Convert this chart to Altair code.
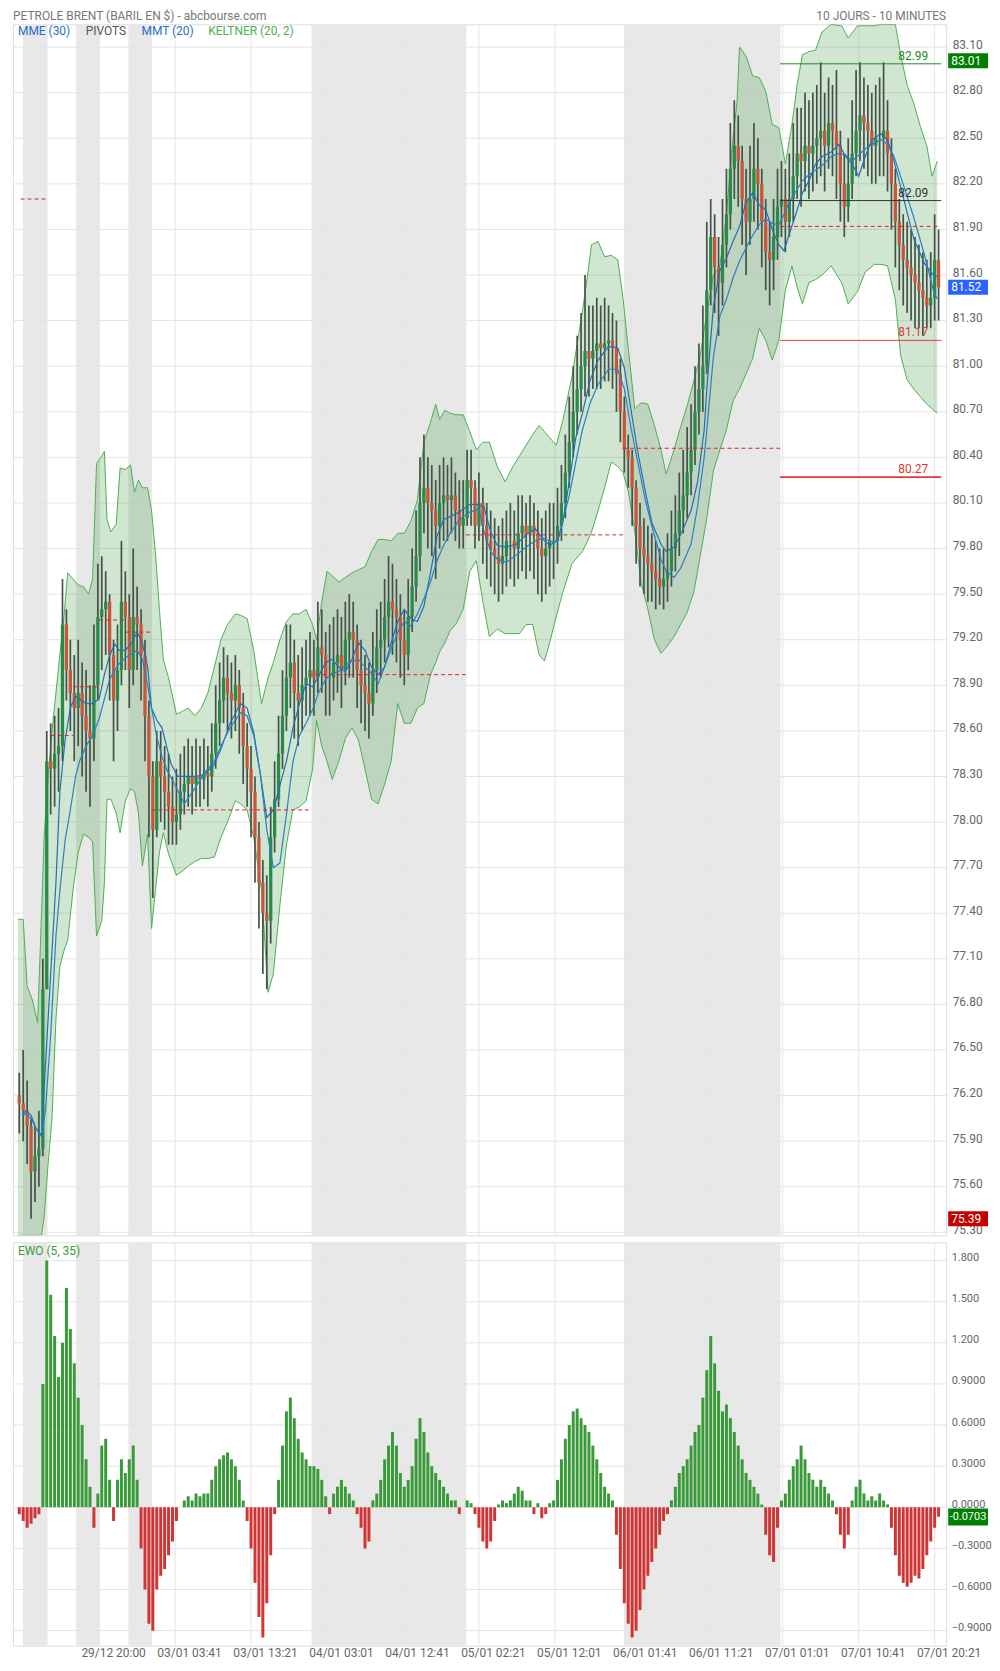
import altair as alt
import pandas as pd

FONT = "Roboto"
W, H1, H2 = 937, 1216, 405
XMAX = 705
PMIN, PMAX = 75.28, 83.25
EMIN, EMAX = -1.010, 1.933

# ---------------- data ----------------
candle_idx = list(range(1, 705, 3))  # 10-min bar index of each drawn candle
first_open = 76.20
closes = [
    76.15, 76.10, 76.00, 75.70, 75.80, 75.85, 76.90, 78.40, 78.35, 78.45,
    78.50, 79.30, 79.00, 78.85, 78.75, 78.85, 78.70, 78.60, 78.55, 78.90,
    79.35, 79.40, 79.45, 79.10, 78.80, 79.00, 79.45, 79.35, 79.00, 79.35,
    79.30, 79.10, 78.70, 78.30, 77.95, 78.40, 78.30, 78.20, 78.10, 78.00,
    78.05, 78.20, 78.25, 78.30, 78.25, 78.30, 78.28, 78.32, 78.30, 78.45,
    78.65, 78.80, 78.95, 78.85, 78.80, 78.90, 78.75, 78.50, 78.35, 78.20,
    77.90, 77.60, 77.40, 77.35, 77.90, 78.15, 78.45, 78.70, 78.95, 79.05,
    78.85, 78.80, 78.90, 78.95, 79.00, 78.95, 79.15, 79.10, 78.95, 78.95,
    79.05, 79.10, 79.00, 79.20, 79.25, 79.20, 79.00, 78.90, 78.85, 78.78,
    79.00, 79.15, 79.20, 79.35, 79.45, 79.40, 79.35, 79.20, 79.10, 79.35,
    79.55, 79.75, 80.10, 80.20, 80.10, 80.05, 79.95, 80.10, 80.15, 80.12,
    80.15, 80.05, 79.95, 80.00, 80.25, 80.20, 79.95, 80.10, 79.95, 79.85,
    79.80, 79.75, 79.70, 79.75, 79.85, 79.85, 79.80, 79.90, 79.95, 79.90,
    79.95, 79.90, 79.80, 79.75, 79.80, 79.85, 79.85, 79.95, 80.10, 80.30,
    80.50, 80.70, 80.85, 81.00, 81.10, 81.05, 81.10, 81.15, 81.12, 81.15,
    81.17, 81.12, 80.95, 80.70, 80.45, 80.40, 80.20, 79.95, 79.80, 79.75,
    79.70, 79.65, 79.60, 79.55, 79.60, 79.65, 79.80, 79.90, 80.05, 80.15,
    80.30, 80.45, 80.70, 80.85, 81.00, 81.50, 81.85, 81.65, 81.55, 81.80,
    82.00, 82.30, 82.45, 82.35, 82.10, 81.95, 82.10, 82.30, 82.20, 81.95,
    81.75, 81.70, 81.85, 82.05, 82.10, 81.95, 82.10, 82.25, 82.40, 82.35,
    82.45, 82.40, 82.45, 82.50, 82.55, 82.45, 82.60, 82.55, 82.45, 82.20,
    82.05, 82.20, 82.40, 82.55, 82.65, 82.60, 82.55, 82.45, 82.50, 82.50,
    82.55, 82.40, 82.20, 81.95, 81.80, 81.70, 81.65, 81.60, 81.55, 81.50,
    81.45, 81.40, 81.45, 81.70, 81.52,
]
highs = [
    76.35, 76.50, 76.30, 76.05, 76.00, 76.10, 77.10, 78.60, 78.65, 78.70,
    78.75, 79.60, 79.40, 79.20, 79.10, 79.20, 79.05, 79.00, 78.90, 79.30,
    79.70, 79.75, 79.65, 79.50, 79.20, 79.30, 79.85, 79.65, 79.50, 79.80,
    79.55, 79.40, 79.20, 78.80, 78.40, 78.60, 78.60, 78.50, 78.45, 78.30,
    78.35, 78.45, 78.50, 78.55, 78.50, 78.55, 78.50, 78.55, 78.50, 78.65,
    78.90, 79.05, 79.15, 79.10, 79.05, 79.10, 79.00, 78.85, 78.65, 78.50,
    78.30, 78.00, 77.75, 77.65, 78.10, 78.40, 78.70, 79.00, 79.30, 79.30,
    79.20, 79.10, 79.15, 79.20, 79.25, 79.20, 79.45, 79.40, 79.25, 79.30,
    79.35, 79.40, 79.35, 79.45, 79.50, 79.45, 79.30, 79.20, 79.10, 79.05,
    79.25, 79.40, 79.45, 79.60, 79.75, 79.70, 79.60, 79.50, 79.40, 79.60,
    79.80, 80.05, 80.40, 80.55, 80.40, 80.35, 80.25, 80.35, 80.40, 80.35,
    80.40, 80.30, 80.25, 80.25, 80.45, 80.45, 80.25, 80.30, 80.20, 80.10,
    80.05, 80.00, 79.95, 80.00, 80.05, 80.10, 80.05, 80.15, 80.15, 80.10,
    80.15, 80.10, 80.05, 80.00, 80.05, 80.10, 80.10, 80.20, 80.35, 80.55,
    80.80, 81.00, 81.20, 81.35, 81.60, 81.40, 81.40, 81.45, 81.40, 81.45,
    81.40, 81.35, 81.30, 81.05, 80.80, 80.55, 80.45, 80.25, 80.10, 80.00,
    79.95, 79.90, 79.85, 79.80, 79.80, 79.90, 80.05, 80.15, 80.30, 80.45,
    80.60, 80.75, 81.00, 81.15, 81.40, 81.95, 82.10, 82.00, 81.85, 82.10,
    82.30, 82.60, 82.75, 82.65, 82.45, 82.30, 82.45, 82.60, 82.50, 82.30,
    82.10, 81.95, 82.10, 82.30, 82.35, 82.30, 82.40, 82.60, 82.70, 82.70,
    82.80, 82.75, 82.80, 82.85, 83.00, 82.80, 82.90, 82.85, 82.95, 82.55,
    82.40, 82.50, 82.75, 82.95, 83.00, 82.90, 82.85, 82.80, 82.85, 82.90,
    83.00, 82.75, 82.50, 82.30, 82.10, 82.00, 81.95, 81.90, 81.85, 81.80,
    81.75, 81.70, 81.75, 82.00, 81.90,
]
lows = [
    75.95, 75.90, 75.75, 75.39, 75.50, 75.60, 75.80, 76.90, 78.05, 78.10,
    78.20, 78.40, 78.80, 78.60, 78.40, 78.50, 78.30, 78.20, 78.10, 78.40,
    78.80, 79.00, 79.10, 78.80, 78.40, 78.60, 78.90, 79.00, 78.75, 78.90,
    79.00, 78.80, 78.40, 77.90, 77.50, 77.90, 78.00, 77.95, 77.85, 77.85,
    77.85, 77.95, 78.05, 78.10, 78.05, 78.10, 78.10, 78.15, 78.10, 78.20,
    78.35, 78.50, 78.65, 78.60, 78.55, 78.60, 78.45, 78.25, 78.10, 77.90,
    77.60, 77.30, 77.00, 76.90, 77.20, 77.80, 78.10, 78.35, 78.60, 78.75,
    78.55, 78.50, 78.60, 78.70, 78.70, 78.70, 78.85, 78.85, 78.70, 78.70,
    78.80, 78.85, 78.75, 78.90, 78.95, 78.95, 78.75, 78.65, 78.60, 78.55,
    78.70, 78.85, 78.95, 79.05, 79.15, 79.10, 79.05, 78.95, 78.90, 79.00,
    79.25, 79.45, 79.65, 79.90, 79.80, 79.75, 79.60, 79.80, 79.85, 79.85,
    79.90, 79.85, 79.80, 79.80, 79.95, 79.95, 79.80, 79.85, 79.70, 79.60,
    79.55, 79.50, 79.45, 79.50, 79.55, 79.60, 79.55, 79.60, 79.65, 79.60,
    79.65, 79.60, 79.50, 79.45, 79.50, 79.55, 79.60, 79.70, 79.85, 80.00,
    80.20, 80.40, 80.55, 80.70, 80.80, 80.80, 80.85, 80.85, 80.85, 80.90,
    80.90, 80.85, 80.70, 80.50, 80.30, 80.20, 79.95, 79.70, 79.55, 79.50,
    79.45, 79.45, 79.40, 79.43, 79.40, 79.45, 79.55, 79.65, 79.75, 79.90,
    80.00, 80.15, 80.35, 80.55, 80.70, 80.95, 81.40, 81.35, 81.20, 81.40,
    81.65, 81.90, 82.10, 82.05, 81.80, 81.60, 81.80, 81.95, 81.90, 81.65,
    81.50, 81.40, 81.50, 81.70, 81.85, 81.75, 81.85, 81.95, 82.10, 82.05,
    82.15, 82.10, 82.15, 82.20, 82.25, 82.15, 82.30, 82.25, 82.10, 81.95,
    81.85, 81.95, 82.10, 82.25, 82.35, 82.30, 82.25, 82.20, 82.20, 82.25,
    82.25, 82.15, 81.90, 81.65, 81.50, 81.40, 81.35, 81.30, 81.25, 81.25,
    81.20, 81.25, 81.25, 81.30, 81.30,
]
ewo = [
    -0.05, -0.10, -0.15, -0.12, -0.08, -0.05, 0.90, 1.80, 1.55, 1.25,
    0.95, 1.20, 1.60, 1.30, 1.05, 0.80, 0.60, 0.35, 0.15, -0.15,
    0.10, 0.45, 0.50, 0.20, -0.10, 0.20, 0.35, 0.25, 0.35, 0.45,
    0.20, -0.30, -0.60, -0.85, -0.90, -0.60, -0.50, -0.45, -0.35, -0.25,
    -0.10, 0.00, 0.05, 0.08, 0.05, 0.10, 0.08, 0.10, 0.10, 0.20,
    0.30, 0.35, 0.38, 0.40, 0.35, 0.30, 0.20, 0.05, -0.10, -0.30,
    -0.55, -0.80, -0.95, -0.70, -0.35, -0.05, 0.20, 0.45, 0.70, 0.80,
    0.65, 0.50, 0.40, 0.35, 0.30, 0.30, 0.28, 0.20, 0.08, -0.05,
    0.10, 0.15, 0.20, 0.15, 0.10, 0.05, -0.05, -0.15, -0.30, -0.25,
    0.05, 0.10, 0.20, 0.35, 0.45, 0.55, 0.45, 0.25, 0.15, 0.20,
    0.30, 0.50, 0.65, 0.55, 0.40, 0.30, 0.25, 0.20, 0.15, 0.10,
    0.05, 0.05, -0.05, 0.00, 0.05, 0.03, -0.05, -0.15, -0.25, -0.30,
    -0.25, -0.10, 0.02, 0.05, 0.03, 0.05, 0.10, 0.15, 0.12, 0.05,
    0.05, -0.05, 0.03, -0.08, -0.05, 0.03, 0.05, 0.20, 0.35, 0.50,
    0.60, 0.70, 0.72, 0.65, 0.60, 0.55, 0.45, 0.35, 0.25, 0.15,
    0.10, 0.05, -0.20, -0.45, -0.70, -0.85, -0.95, -0.90, -0.75, -0.60,
    -0.50, -0.40, -0.30, -0.20, -0.10, -0.05, 0.05, 0.15, 0.25, 0.30,
    0.35, 0.45, 0.55, 0.60, 0.80, 1.00, 1.25, 1.05, 0.85, 0.70,
    0.75, 0.65, 0.55, 0.45, 0.35, 0.25, 0.20, 0.15, 0.10, 0.02,
    -0.20, -0.35, -0.40, -0.15, 0.05, 0.10, 0.20, 0.30, 0.35, 0.45,
    0.35, 0.25, 0.20, 0.15, 0.20, 0.15, 0.10, 0.05, -0.05, -0.20,
    -0.30, -0.20, 0.05, 0.15, 0.20, 0.10, 0.05, 0.08, 0.05, 0.10,
    0.05, 0.02, -0.15, -0.35, -0.50, -0.55, -0.58, -0.55, -0.50, -0.52,
    -0.45, -0.35, -0.25, -0.15, -0.07,
]

band_idx = [0, 4, 7, 11, 15, 18, 20, 23, 26, 29, 32, 35, 38, 42, 46, 50, 54, 57, 60, 64,
            66, 68, 71, 75, 78, 82, 86, 89, 92, 95, 99, 102, 105, 108, 111, 115, 121, 126, 130, 135,
            140, 145, 150, 155, 160, 166, 170, 175, 180, 186, 191, 195, 200, 205, 210, 215, 220, 225, 228, 232,
            236, 240, 245, 250, 255, 260, 265, 270, 275, 280, 285, 290, 295, 300, 305, 310, 315, 319, 322, 326,
            330, 335, 340, 345, 350, 355, 360, 366, 372, 378, 383, 388, 393, 398, 402, 406, 411, 416, 423, 428,
            431, 435, 438, 443, 448, 453, 458, 462, 466, 471, 476, 481, 486, 491, 495, 501, 506, 511, 516, 521,
            526, 531, 536, 541, 546, 549, 551, 556, 561, 566, 571, 576, 581, 586, 591, 595, 599, 604, 609, 614,
            621, 629, 634, 641, 647, 654, 659, 664, 670, 674, 679, 684, 689, 694, 698, 702]
# visible part of the bands (cut at the edges of the plot, as in the picture)
band_upper = [77.36, 77.36, 76.92, 76.83, 76.68, 77.40, 77.90, 78.30, 78.60, 78.85, 79.10, 79.34, 79.64, 79.60, 79.56, 79.55, 79.50, 79.60, 80.36, 80.41,
              80.44, 79.99, 79.91, 79.96, 80.33, 80.32, 80.35, 80.17, 80.25, 80.20, 80.20, 80.05, 79.77, 79.40, 79.07, 78.95, 78.71, 78.73, 78.75, 78.70,
              78.75, 78.85, 79.02, 79.20, 79.30, 79.37, 79.36, 79.34, 79.13, 78.78, 78.95, 79.05, 79.20, 79.32, 79.37, 79.37, 79.40, 79.30, 79.20, 79.45,
              79.65, 79.62, 79.58, 79.61, 79.64, 79.66, 79.68, 79.78, 79.86, 79.86, 79.85, 79.90, 79.90, 79.98, 80.12, 80.50, 80.63, 80.75, 80.65, 80.71,
              80.69, 80.68, 80.68, 80.57, 80.45, 80.50, 80.50, 80.34, 80.24, 80.34, 80.41, 80.48, 80.55, 80.61, 80.57, 80.53, 80.48, 80.64, 80.93, 81.20,
              81.36, 81.60, 81.80, 81.82, 81.72, 81.73, 81.70, 81.45, 81.12, 80.72, 80.76, 80.75, 80.61, 80.45, 80.29, 80.45, 80.60, 80.74, 80.90, 81.07,
              81.35, 81.60, 81.66, 82.00, 82.50, 82.73, 83.10, 83.04, 82.91, 82.90, 82.81, 82.59, 82.57, 82.33, 82.59, 82.85, 83.05, 83.07, 83.08, 83.20,
              83.25, 83.24, 83.16, 83.24, 83.24, 83.24, 83.25, 83.25, 83.25, 83.05, 82.85, 82.73, 82.58, 82.45, 82.25, 82.35]
band_lower = [75.28, 75.28, 75.28, 75.28, 75.28, 75.28, 75.40, 75.75, 76.05, 76.70, 77.05, 77.15, 77.22, 77.55, 77.80, 77.92, 77.90, 77.87, 77.25, 77.35,
              77.60, 78.15, 78.15, 78.06, 77.93, 78.14, 78.22, 78.20, 78.06, 77.71, 77.92, 77.30, 77.55, 77.80, 77.93, 77.79, 77.65, 77.68, 77.71, 77.74,
              77.76, 77.76, 77.77, 77.90, 78.00, 78.14, 78.12, 78.08, 77.90, 77.55, 76.88, 77.00, 77.45, 77.85, 78.08, 78.10, 78.14, 78.35, 78.67, 78.50,
              78.40, 78.28, 78.40, 78.55, 78.62, 78.54, 78.35, 78.15, 78.12, 78.25, 78.40, 78.78, 78.65, 78.65, 78.75, 78.78, 78.97, 79.05, 79.12, 79.18,
              79.26, 79.31, 79.40, 79.65, 79.72, 79.45, 79.22, 79.27, 79.24, 79.24, 79.24, 79.30, 79.30, 79.10, 79.06, 79.18, 79.35, 79.51, 79.70, 79.75,
              79.78, 79.85, 79.91, 80.05, 80.20, 80.37, 80.34, 80.30, 80.18, 79.91, 79.57, 79.40, 79.20, 79.11, 79.15, 79.22, 79.30, 79.38, 79.51, 79.75,
              80.00, 80.31, 80.45, 80.58, 80.77, 80.82, 80.85, 80.95, 81.05, 81.25, 81.17, 81.04, 81.17, 81.50, 81.66, 81.52, 81.41, 81.55, 81.57, 81.60,
              81.66, 81.55, 81.41, 81.49, 81.62, 81.67, 81.67, 81.66, 81.44, 81.07, 80.91, 80.85, 80.80, 80.75, 80.72, 80.69]

ma_idx = [3, 6, 10, 14, 18, 21, 25, 29, 32, 36, 40, 44, 47, 52, 57, 62, 66, 70, 74, 77,
          82, 87, 91, 95, 99, 102, 106, 110, 114, 117, 122, 127, 135, 142, 150, 155, 162, 170, 175, 180,
          185, 190, 195, 200, 205, 210, 215, 220, 225, 230, 235, 240, 245, 250, 255, 260, 265, 270, 275, 280,
          285, 290, 295, 300, 305, 310, 315, 320, 325, 330, 337, 345, 352, 356, 361, 366, 373, 381, 388, 395,
          401, 406, 412, 416, 421, 426, 431, 437, 443, 451, 458, 463, 468, 473, 479, 484, 491, 495, 501, 506,
          514, 519, 524, 526, 531, 536, 541, 546, 551, 556, 561, 566, 571, 576, 581, 585, 589, 594, 599, 604,
          609, 614, 621, 627, 632, 637, 642, 647, 652, 659, 664, 669, 677, 684, 692, 699, 702]
mmt20 = [76.07, 76.10, 76.07, 75.98, 75.94, 76.40, 77.00, 77.60, 78.20, 78.54, 78.75, 78.83, 78.81, 78.78, 78.78, 78.81, 78.97, 79.10, 79.17, 79.13,
         79.13, 79.18, 79.25, 79.18, 79.02, 78.75, 78.67, 78.62, 78.48, 78.38, 78.30, 78.30, 78.30, 78.31, 78.38, 78.48, 78.65, 78.78, 78.75, 78.59,
         78.32, 78.03, 78.08, 78.24, 78.40, 78.62, 78.78, 78.91, 78.89, 78.97, 79.05, 79.07, 79.02, 78.99, 79.07, 79.18, 79.13, 79.02, 78.97, 79.02,
         79.18, 79.32, 79.40, 79.34, 79.32, 79.42, 79.64, 79.88, 79.99, 80.01, 80.04, 80.09, 80.09, 80.07, 79.91, 79.82, 79.81, 79.83, 79.89, 79.93,
         79.86, 79.82, 79.86, 79.97, 80.24, 80.53, 80.69, 80.91, 81.04, 81.13, 81.12, 80.99, 80.72, 80.45, 80.18, 79.97, 79.83, 79.78, 79.81, 79.89,
         80.05, 80.24, 80.58, 80.85, 81.39, 81.63, 81.71, 81.82, 81.92, 82.08, 82.14, 82.06, 82.03, 81.90, 81.80, 81.76, 81.87, 82.00, 82.14, 82.22,
         82.33, 82.38, 82.41, 82.46, 82.38, 82.33, 82.25, 82.38, 82.49, 82.53, 82.49, 82.35, 82.08, 81.84, 81.68, 81.60, 81.59]
mme30 = [76.07, 76.08, 76.05, 75.98, 75.93, 76.10, 76.60, 77.25, 77.55, 77.88, 78.08, 78.30, 78.40, 78.50, 78.57, 78.68, 78.81, 78.94, 79.00, 79.04,
         79.08, 79.11, 79.13, 79.07, 78.90, 78.75, 78.56, 78.43, 78.34, 78.29, 78.21, 78.12, 78.22, 78.32, 78.40, 78.50, 78.62, 78.72, 78.70, 78.57,
         78.32, 77.95, 77.70, 77.73, 78.05, 78.40, 78.57, 78.65, 78.74, 78.86, 78.94, 78.98, 78.99, 79.03, 79.06, 79.07, 79.02, 78.98, 78.91, 79.02,
         79.14, 79.25, 79.32, 79.29, 79.37, 79.47, 79.58, 79.72, 79.82, 79.90, 79.99, 80.04, 80.06, 79.91, 79.78, 79.73, 79.71, 79.76, 79.81, 79.85,
         79.87, 79.85, 79.84, 79.98, 80.15, 80.37, 80.58, 80.76, 80.88, 80.98, 80.98, 80.85, 80.60, 80.38, 80.12, 79.95, 79.73, 79.65, 79.61, 79.67,
         79.83, 80.08, 80.40, 80.58, 81.06, 81.33, 81.44, 81.58, 81.69, 81.78, 81.86, 81.93, 81.97, 81.94, 81.93, 82.00, 82.08, 82.15, 82.22, 82.26,
         82.29, 82.32, 82.38, 82.40, 82.39, 82.35, 82.39, 82.43, 82.46, 82.49, 82.46, 82.38, 82.17, 81.98, 81.74, 81.50, 81.44]

# pivots: dashed daily levels and solid levels of the last day
piv_dash_a = [2, 25, 42, 62, 82, 102, 222, 342, 462, 582]
piv_dash_b = [22, 42, 62, 82, 102, 222, 342, 462, 582, 703]
piv_dash_v = [82.10, 78.57, 78.89, 79.33, 79.25, 78.08, 78.97, 79.89, 80.46, 81.92]
piv_solid_v = [82.99, 82.09, 81.17, 80.27]
piv_solid_lbl = ["82.99", "82.09", "81.17", "80.27"]
piv_solid_col = ["#1e8c1e", "#333333", "#e53935", "#e53935"]
piv_solid_w = [1, 1, 1, 2]
piv_solid_a, piv_solid_b = 582, 705

shade_a = [3.8, 44.4, 84.3, 224.2, 462.8]
shade_b = [22.6, 62.5, 102.3, 342.4, 582.4]

price_ticks = [75.30, 75.60, 75.90, 76.20, 76.50, 76.80, 77.10, 77.40, 77.70, 78.00, 78.30, 78.60, 78.90, 79.20,
               79.50, 79.80, 80.10, 80.40, 80.70, 81.00, 81.30, 81.60, 81.90, 82.20, 82.50, 82.80, 83.10]
ewo_ticks = [-0.9, -0.6, -0.3, 0.0, 0.3, 0.6, 0.9, 1.2, 1.5, 1.8]
time_ticks = [62, 120, 178, 236, 294, 352, 410, 468, 526, 584, 642, 700]
time_labels = ["29/12 20:00", "03/01 03:41", "03/01 13:21", "04/01 03:01", "04/01 12:41", "05/01 02:21",
               "05/01 12:01", "06/01 01:41", "06/01 11:21", "07/01 01:01", "07/01 10:41", "07/01 20:21"]

tag_price = [83.01, 81.52, 75.39]
tag_price_lbl = ["83.01", "81.52", "75.39"]
tag_price_col = ["#008000", "#2962ff", "#c40000"]
tag_ewo = -0.0703

# ---------------- tables ----------------
opens = [first_open] + closes[:-1]
candles = pd.DataFrame({"i": candle_idx, "o": opens, "c": closes, "h": highs, "l": lows})
ewo_df = pd.DataFrame({"i": candle_idx, "e": ewo})
band = pd.DataFrame({"i": band_idx, "up": band_upper, "lo": band_lower})
ma = pd.DataFrame({"i": ma_idx, "a": mmt20, "b": mme30})
shade = pd.DataFrame({"a": shade_a, "b": shade_b})
pdash = pd.DataFrame({"a": piv_dash_a, "b": piv_dash_b, "v": piv_dash_v})
psolid = pd.DataFrame({"v": piv_solid_v, "t": piv_solid_lbl, "col": piv_solid_col, "w": piv_solid_w,
                       "a": [piv_solid_a] * 4, "b": [piv_solid_b] * 4})
ptags = pd.DataFrame({"v": tag_price, "t": tag_price_lbl, "col": tag_price_col})

xs = alt.Scale(domain=[0, XMAX], nice=False, zero=False)
ys = alt.Scale(domain=[PMIN, PMAX], nice=False, zero=False)
es = alt.Scale(domain=[EMIN, EMAX], nice=False, zero=False)

GRID = "#e4e4e4"
SHADE = "#e8e8e8"
BULL, BEAR, WICK = "#2a8a48", "#c9553a", "#44534a"
MA_COL = "#1f6fb4"
LBL = "#666666"
TAG_X, TAG_W = 959, 40  # tag boxes right of the plot

price_axis = alt.Axis(orient="right", values=price_ticks, format=".2f", domain=False, ticks=False, grid=False,
                      labelPadding=6, labelColor=LBL, labelFontSize=12, labelFont=FONT, title=None,
                      zindex=0, labelOffset=-3)
ticks_js = "[" + ",".join(str(t) for t in time_ticks) + "]"
labels_js = "[" + ",".join("'" + s + "'" for s in time_labels) + "]"
time_axis = alt.Axis(values=time_ticks, labelExpr=f"{labels_js}[indexof({ticks_js}, datum.value)]",
                     domain=False, ticks=False, grid=False, labelPadding=2, labelFontSize=12, labelFont=FONT,
                     labelColor=LBL, labelOffset=14, labelFlush=False, labelOverlap=False, title=None)
ewo_axis = alt.Axis(orient="right", values=ewo_ticks,
                    labelExpr="abs(datum.value) >= 1 ? format(datum.value, '.3f') : format(datum.value, '.4f')",
                    domain=False, ticks=False, grid=False, labelPadding=5, labelColor=LBL, labelFontSize=11,
                    labelFont=FONT, title=None, zindex=0, labelOffset=-3)

X = lambda f: alt.X(f, type="quantitative", scale=xs, axis=None)
XT = lambda f: alt.X(f, type="quantitative", scale=xs, axis=time_axis)
Y = lambda f: alt.Y(f, type="quantitative", scale=ys, axis=price_axis)
E = lambda f: alt.Y(f, type="quantitative", scale=es, axis=ewo_axis)


def txt(s, x, y, color, align="left", size=12):
    return alt.Chart(pd.DataFrame({"s": [s]})).mark_text(
        align=align, baseline="middle", fontSize=size, font=FONT, color=color
    ).encode(x=alt.value(x), y=alt.value(y), text="s:N")


# ---------------- main panel ----------------
m_shade = alt.Chart(shade).mark_rect(color=SHADE).encode(x=X("a"), x2="b", y=alt.value(0), y2=alt.value(H1))
m_hgrid = alt.Chart(pd.DataFrame({"v": price_ticks})).mark_rule(color=GRID, strokeWidth=1).encode(
    y=Y("v"), x=alt.value(0), x2=alt.value(W))
m_vgrid = alt.Chart(pd.DataFrame({"t": time_ticks})).mark_rule(color=GRID, strokeWidth=1).encode(
    x=X("t"), y=alt.value(0), y2=alt.value(H1))
m_band = alt.Chart(band).mark_area(color="#2e8b2e", opacity=0.22, clip=True).encode(x=X("i"), y=Y("up"), y2="lo")
m_bup = alt.Chart(band).mark_line(color="#4caf50", strokeWidth=1, clip=True).encode(x=X("i"), y=Y("up"))
m_blo = alt.Chart(band).mark_line(color="#4caf50", strokeWidth=1, clip=True).encode(x=X("i"), y=Y("lo"))
m_wick = alt.Chart(candles).mark_rule(color=WICK, strokeWidth=1.7, clip=True).encode(x=X("i"), y=Y("l"), y2="h")
m_body = alt.Chart(candles).mark_bar(width=3.3, clip=True).encode(
    x=X("i"), y=Y("o"), y2="c",
    color=alt.condition("datum.c >= datum.o", alt.value(BULL), alt.value(BEAR)))
m_ma1 = alt.Chart(ma).mark_line(color=MA_COL, strokeWidth=1.2, clip=True).encode(x=X("i"), y=Y("a"))
m_ma2 = alt.Chart(ma).mark_line(color="#2b7fc0", strokeWidth=1.2, clip=True).encode(x=X("i"), y=Y("b"))
m_pdash = alt.Chart(pdash).mark_rule(color="#e02020", strokeWidth=1, strokeDash=[4, 3]).encode(
    x=X("a"), x2="b", y=Y("v"))
m_psolid = alt.Chart(psolid).mark_rule().encode(
    x=X("a"), x2="b", y=Y("v"),
    color=alt.Color("col:N", scale=None), strokeWidth=alt.StrokeWidth("w:Q", scale=None))
m_plbl = alt.Chart(psolid).mark_text(align="right", baseline="bottom", dy=-1, fontSize=12, font=FONT).encode(
    x=alt.value(919), y=Y("v"), text="t:N", color=alt.Color("col:N", scale=None))
m_tagbox = alt.Chart(ptags).mark_tick(orient="horizontal", thickness=15, size=TAG_W, opacity=1).encode(
    x=alt.value(TAG_X), y=Y("v"), color=alt.Color("col:N", scale=None))
m_tagtxt = alt.Chart(ptags).mark_text(align="left", baseline="middle", fontSize=12, font=FONT, color="white").encode(
    x=alt.value(942), y=Y("v"), text="t:N")

main = alt.layer(
    m_shade, m_hgrid, m_vgrid, m_band, m_bup, m_blo, m_wick, m_body, m_ma1, m_ma2,
    m_pdash, m_psolid, m_plbl, m_tagbox, m_tagtxt,
    txt("PETROLE BRENT (BARIL EN $) - abcbourse.com", 0, -8, "#777777"),
    txt("10 JOURS - 10 MINUTES", W, -8, "#777777", align="right"),
    txt("MME (30)", 5, 7, "#1f6fc8"),
    txt("PIVOTS", 73, 7, "#555555"),
    txt("MMT (20)", 129, 7, "#1f6fc8"),
    txt("KELTNER (20, 2)", 196, 7, "#4caf50"),
).properties(width=W, height=H1)

# ---------------- EWO panel ----------------
e_shade = alt.Chart(shade).mark_rect(color=SHADE).encode(x=XT("a"), x2="b", y=alt.value(0), y2=alt.value(H2))
e_hgrid = alt.Chart(pd.DataFrame({"v": ewo_ticks})).mark_rule(color=GRID, strokeWidth=1).encode(
    y=E("v"), x=alt.value(0), x2=alt.value(W))
e_vgrid = alt.Chart(pd.DataFrame({"t": time_ticks})).mark_rule(color=GRID, strokeWidth=1).encode(
    x=XT("t"), y=alt.value(0), y2=alt.value(H2))
e_bars = alt.Chart(ewo_df).mark_bar(width=3.0, clip=True).encode(
    x=XT("i"), y=E("e"), y2=alt.datum(0),
    color=alt.condition("datum.e >= 0", alt.value("#3a9a3a"), alt.value("#d03434")))
e_tag = pd.DataFrame({"v": [tag_ewo], "t": ["-0.0703"]})
e_tagbox = alt.Chart(e_tag).mark_tick(orient="horizontal", thickness=17, size=TAG_W, opacity=1, color="#008000").encode(
    x=alt.value(TAG_X), y=E("v"))
e_tagtxt = alt.Chart(e_tag).mark_text(align="left", baseline="middle", fontSize=11, font=FONT, color="white").encode(
    x=alt.value(940.5), y=E("v"), text="t:N")

ewo_panel = alt.layer(
    e_shade, e_hgrid, e_vgrid, e_bars, e_tagbox, e_tagtxt,
    txt("EWO (5, 35)", 5, 9, "#3a9a3a"),
).properties(width=W, height=H2)

chart = alt.vconcat(main, ewo_panel, spacing=5).properties(
    padding={"left": 4, "top": -2, "right": 0, "bottom": 0}, background="white"
).configure(font=FONT).configure_view(stroke="#dddddd")

chart.save("out.html", embed_options={"renderer": "svg", "actions": False})
